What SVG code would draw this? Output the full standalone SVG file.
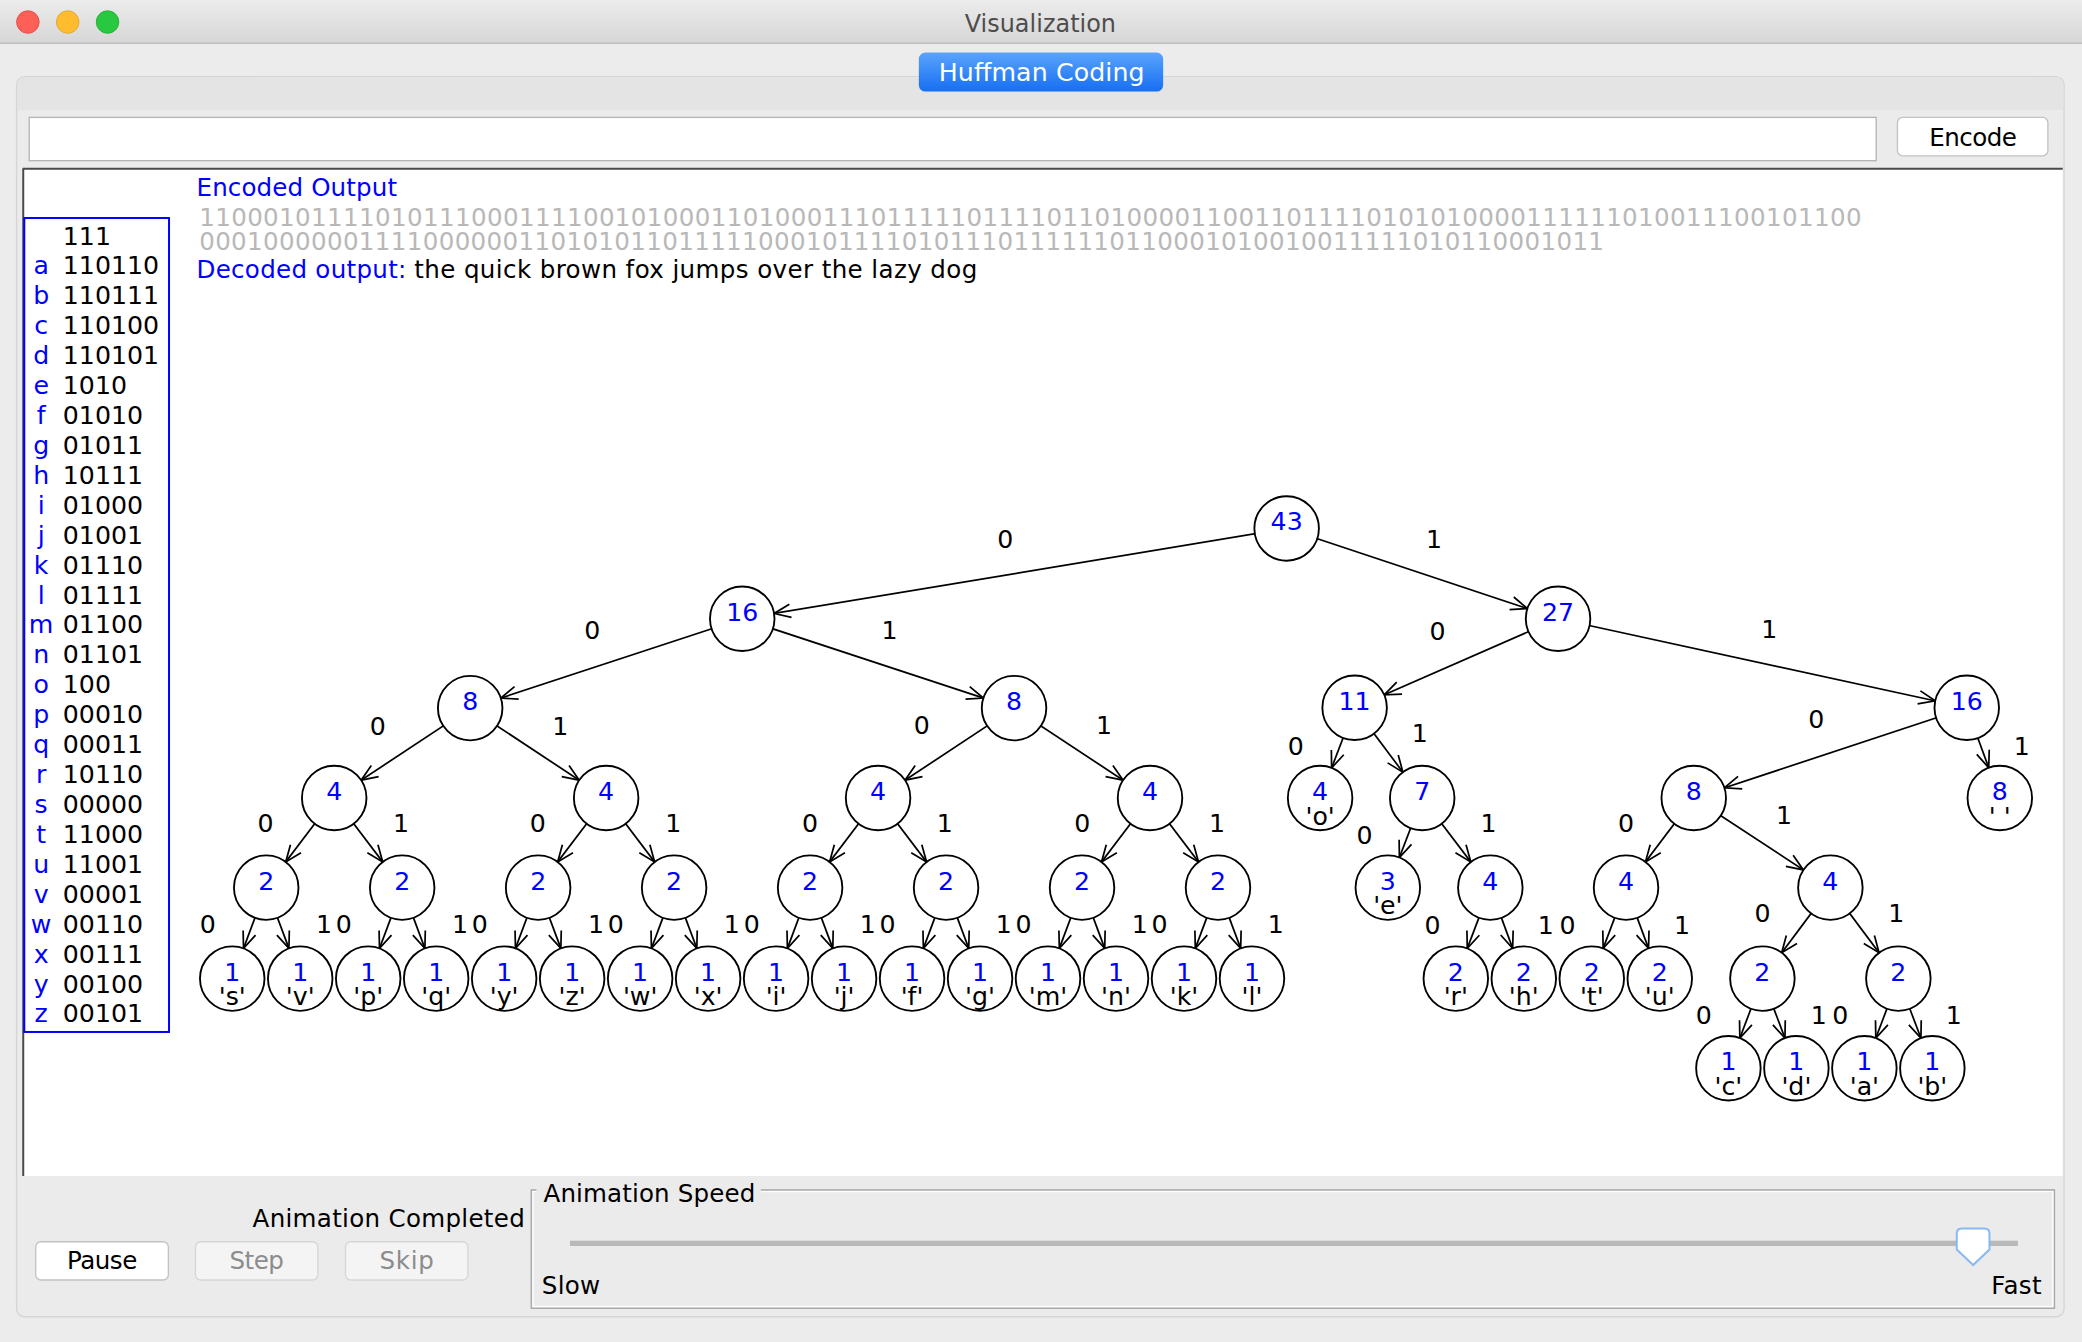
<svg xmlns="http://www.w3.org/2000/svg" width="2082" height="1342" viewBox="0 0 2082 1342">
<defs>
<linearGradient id="tb" x1="0" y1="0" x2="0" y2="1"><stop offset="0" stop-color="#ececec"/><stop offset="1" stop-color="#d6d6d6"/></linearGradient>
<linearGradient id="tab" x1="0" y1="0" x2="0" y2="1"><stop offset="0" stop-color="#5aa4fd"/><stop offset="1" stop-color="#166ef2"/></linearGradient>
<marker id="ah" markerUnits="userSpaceOnUse" orient="auto" markerWidth="1" markerHeight="1" refX="0" refY="0" style="overflow:visible"><path d="M-36.8,-5 L-24.3,0 L-36.8,5" fill="none" stroke="#000" stroke-width="1.3"/></marker>
</defs>
<style>
text{font-family:"DejaVu Sans","Liberation Sans",sans-serif;font-size:19px}
.ui{font-size:18.5px;fill:#000}
.blue{fill:#0000ff}
.gray{fill:#b8b8b8}
.num{fill:#0000ff;text-anchor:middle}
.ch{fill:#000;text-anchor:middle}
.el{fill:#000;text-anchor:middle}
.nd circle{fill:#fff;stroke:#000;stroke-width:1.4}
.edges line{stroke:#000;stroke-width:1.3;marker-end:url(#ah)}
.btn{fill:#fff;stroke:#c2c2c2;stroke-width:1}
.btnd{fill:#f4f4f4;stroke:#d6d6d6;stroke-width:1}
.tl{font-size:19px}
.tc{text-anchor:middle}
</style>
<g transform="scale(1.327806)">
<!-- window -->
<rect x="0" y="0" width="1568" height="1011" fill="#ececec"/>
<rect x="0" y="0" width="1568" height="32.6" fill="url(#tb)"/>
<line x1="0" y1="32.6" x2="1568" y2="32.6" stroke="#bdbdbd" stroke-width="1"/>
<circle cx="21" cy="16.6" r="8.5" fill="#fe5f57" stroke="#e0443e" stroke-width="0.6"/>
<circle cx="51" cy="16.6" r="8.5" fill="#febc2e" stroke="#dea123" stroke-width="0.6"/>
<circle cx="81" cy="16.6" r="8.5" fill="#28c840" stroke="#1aab29" stroke-width="0.6"/>
<text x="783.5" y="24.4" class="tc" style="font-size:18px;fill:#4d4d4d" textLength="114">Visualization</text>
<!-- panel -->
<rect x="12.5" y="57.7" width="1542" height="934" rx="6" fill="#ebebeb" stroke="#d5d5d5" stroke-width="1"/>
<path d="M13,82.8 V63.7 Q13,58.2 19,58.2 H1548 Q1554,58.2 1554,63.7 V82.8 Z" fill="#e4e4e4"/>
<rect x="692" y="39.5" width="184" height="29.5" rx="5" fill="url(#tab)"/>
<text x="784.5" y="61.3" class="tc" style="fill:#fff" textLength="155">Huffman Coding</text>
<rect x="22" y="88.4" width="1391" height="32.6" fill="#fff" stroke="#b4b4b4" stroke-width="1"/>
<rect x="1429" y="88.4" width="113.3" height="29" rx="4" class="btn"/>
<text x="1486" y="109.7" class="ui tc" textLength="66">Encode</text>
<!-- canvas -->
<rect x="17" y="127" width="1536.5" height="758.7" fill="#fff"/>
<line x1="17" y1="127" x2="1553.5" y2="127" stroke="#4a4a4a" stroke-width="1.5"/>
<line x1="17.5" y1="127" x2="17.5" y2="885.7" stroke="#4a4a4a" stroke-width="1.5"/>
<text x="148" y="147.4" class="ui blue" textLength="151">Encoded Output</text>
<text x="150" y="170.5" class="ui gray" textLength="1252">11000101111010111000111100101000110100011101111101111011010000110011011110101010000111111010011100101100</text>
<text x="150" y="188.3" class="ui gray" textLength="1058">0001000000111100000011010101101111100010111101011101111110110001010010011111010110001011</text>
<text x="148" y="209.3" class="ui blue" textLength="158">Decoded output:</text>
<text x="312" y="209.3" class="ui" textLength="424">the quick brown fox jumps over the lazy dog</text>
<!-- code table -->
<g id="codetable">
<rect x="18.3" y="164.2" width="109" height="613" fill="#fff" stroke="#0000ff" stroke-width="1.5"/>
<g class="blue tc">
<text x="31" y="206.7">a</text><text x="31" y="229.3">b</text><text x="31" y="251.8">c</text><text x="31" y="274.3">d</text><text x="31" y="296.9">e</text><text x="31" y="319.4">f</text><text x="31" y="341.9">g</text><text x="31" y="364.4">h</text><text x="31" y="387">i</text><text x="31" y="409.5">j</text><text x="31" y="432">k</text><text x="31" y="454.6">l</text><text x="31" y="477.1">m</text><text x="31" y="499.6">n</text><text x="31" y="522.2">o</text><text x="31" y="544.7">p</text><text x="31" y="567.2">q</text><text x="31" y="589.7">r</text><text x="31" y="612.3">s</text><text x="31" y="634.8">t</text><text x="31" y="657.3">u</text><text x="31" y="679.9">v</text><text x="31" y="702.4">w</text><text x="31" y="724.9">x</text><text x="31" y="747.5">y</text><text x="31" y="770">z</text>
</g>
<g fill="#000">
<text x="47.3" y="184.2">111</text><text x="47.3" y="206.7">110110</text><text x="47.3" y="229.3">110111</text><text x="47.3" y="251.8">110100</text><text x="47.3" y="274.3">110101</text><text x="47.3" y="296.9">1010</text><text x="47.3" y="319.4">01010</text><text x="47.3" y="341.9">01011</text><text x="47.3" y="364.4">10111</text><text x="47.3" y="387">01000</text><text x="47.3" y="409.5">01001</text><text x="47.3" y="432">01110</text><text x="47.3" y="454.6">01111</text><text x="47.3" y="477.1">01100</text><text x="47.3" y="499.6">01101</text><text x="47.3" y="522.2">100</text><text x="47.3" y="544.7">00010</text><text x="47.3" y="567.2">00011</text><text x="47.3" y="589.7">10110</text><text x="47.3" y="612.3">00000</text><text x="47.3" y="634.8">11000</text><text x="47.3" y="657.3">11001</text><text x="47.3" y="679.9">00001</text><text x="47.3" y="702.4">00110</text><text x="47.3" y="724.9">00111</text><text x="47.3" y="747.5">00100</text><text x="47.3" y="770">00101</text>
</g>
</g>
<!-- connectors -->
<g id="connectors" class="edges">
<line x1="969" y1="398" x2="559" y2="466"/>
<line x1="969" y1="398" x2="1173.4" y2="466"/>
<line x1="559" y1="466" x2="354.1" y2="533.3"/>
<line x1="559" y1="466" x2="763.7" y2="533.3"/>
<line x1="1173.4" y1="466" x2="1020.2" y2="533"/>
<line x1="1173.4" y1="466" x2="1481.2" y2="533"/>
<line x1="354.1" y1="533.3" x2="251.7" y2="601"/>
<line x1="354.1" y1="533.3" x2="456.5" y2="601"/>
<line x1="763.7" y1="533.3" x2="661.3" y2="601"/>
<line x1="763.7" y1="533.3" x2="866.1" y2="601"/>
<line x1="1020.2" y1="533" x2="994.2" y2="601"/>
<line x1="1020.2" y1="533" x2="1071.1" y2="601"/>
<line x1="1481.2" y1="533" x2="1275.6" y2="601"/>
<line x1="1481.2" y1="533" x2="1506.1" y2="601"/>
<line x1="251.7" y1="601" x2="200.5" y2="668.5"/>
<line x1="251.7" y1="601" x2="302.9" y2="668.5"/>
<line x1="456.5" y1="601" x2="405.3" y2="668.5"/>
<line x1="456.5" y1="601" x2="507.7" y2="668.5"/>
<line x1="661.3" y1="601" x2="610.1" y2="668.5"/>
<line x1="661.3" y1="601" x2="712.5" y2="668.5"/>
<line x1="866.1" y1="601" x2="814.9" y2="668.5"/>
<line x1="866.1" y1="601" x2="917.3" y2="668.5"/>
<line x1="1071.1" y1="601" x2="1045.2" y2="668.5"/>
<line x1="1071.1" y1="601" x2="1122.4" y2="668.5"/>
<line x1="1275.6" y1="601" x2="1224.6" y2="668.5"/>
<line x1="1275.6" y1="601" x2="1378.5" y2="668.5"/>
<line x1="200.5" y1="668.5" x2="174.9" y2="737"/>
<line x1="200.5" y1="668.5" x2="226.1" y2="737"/>
<line x1="302.9" y1="668.5" x2="277.3" y2="737"/>
<line x1="302.9" y1="668.5" x2="328.5" y2="737"/>
<line x1="405.3" y1="668.5" x2="379.7" y2="737"/>
<line x1="405.3" y1="668.5" x2="430.9" y2="737"/>
<line x1="507.7" y1="668.5" x2="482.1" y2="737"/>
<line x1="507.7" y1="668.5" x2="533.3" y2="737"/>
<line x1="610.1" y1="668.5" x2="584.5" y2="737"/>
<line x1="610.1" y1="668.5" x2="635.7" y2="737"/>
<line x1="712.5" y1="668.5" x2="686.9" y2="737"/>
<line x1="712.5" y1="668.5" x2="738.1" y2="737"/>
<line x1="814.9" y1="668.5" x2="789.3" y2="737"/>
<line x1="814.9" y1="668.5" x2="840.5" y2="737"/>
<line x1="917.3" y1="668.5" x2="891.7" y2="737"/>
<line x1="917.3" y1="668.5" x2="942.9" y2="737"/>
<line x1="1122.4" y1="668.5" x2="1096.4" y2="737"/>
<line x1="1122.4" y1="668.5" x2="1147.6" y2="737"/>
<line x1="1224.6" y1="668.5" x2="1198.8" y2="737"/>
<line x1="1224.6" y1="668.5" x2="1250" y2="737"/>
<line x1="1378.5" y1="668.5" x2="1327.3" y2="737"/>
<line x1="1378.5" y1="668.5" x2="1429.7" y2="737"/>
<line x1="1327.3" y1="737" x2="1301.7" y2="804.5"/>
<line x1="1327.3" y1="737" x2="1352.9" y2="804.5"/>
<line x1="1429.7" y1="737" x2="1404.1" y2="804.5"/>
<line x1="1429.7" y1="737" x2="1455.3" y2="804.5"/>
</g>
<!-- edge labels -->
<g id="edge-labels" class="el">
<text x="757" y="413">0</text><text x="1080" y="413">1</text>
<text x="446" y="481.3">0</text><text x="670" y="481">1</text>
<text x="1082.6" y="482.2">0</text><text x="1332.4" y="480.7">1</text>
<text x="284.5" y="553.2">0</text><text x="422" y="553.2">1</text>
<text x="694.3" y="553">0</text><text x="831.5" y="553">1</text>
<text x="975.8" y="568.3">0</text><text x="1069.2" y="559.1">1</text>
<text x="1367.8" y="548.3">0</text><text x="1522.7" y="568.3">1</text>
<text x="200" y="626.5">0</text><text x="302" y="626.5">1</text>
<text x="405" y="626.5">0</text><text x="507" y="626.5">1</text>
<text x="610" y="626.5">0</text><text x="711.5" y="626.5">1</text>
<text x="815" y="626.5">0</text><text x="916.5" y="626.5">1</text>
<text x="1027.7" y="636">0</text><text x="1121.1" y="626.7">1</text>
<text x="1224.5" y="626.7">0</text><text x="1343.6" y="620.6">1</text>
<text x="156.5" y="703">0</text><text x="244" y="703">1</text>
<text x="258.9" y="703">0</text><text x="346.4" y="703">1</text>
<text x="361.3" y="703">0</text><text x="448.8" y="703">1</text>
<text x="463.7" y="703">0</text><text x="551.2" y="703">1</text>
<text x="566.1" y="703">0</text><text x="653.6" y="703">1</text>
<text x="668.5" y="703">0</text><text x="756" y="703">1</text>
<text x="770.9" y="703">0</text><text x="858.4" y="703">1</text>
<text x="873.3" y="703">0</text><text x="960.8" y="703">1</text>
<text x="1078.8" y="703.6">0</text><text x="1164.1" y="703.6">1</text>
<text x="1180.6" y="703.6">0</text><text x="1266.7" y="703.6">1</text>
<text x="1327.4" y="694.3">0</text><text x="1428.1" y="694.3">1</text>
<text x="1283.2" y="771.2">0</text><text x="1369.7" y="771.2">1</text>
<text x="1385.9" y="771.2">0</text><text x="1471.5" y="771.2">1</text>
</g>
<!-- nodes -->
<g id="n43" class="nd"><circle cx="969" cy="398" r="24.3"/><text class="num" x="969" y="399.5">43</text></g>
<g id="n16a" class="nd"><circle cx="559" cy="466" r="24.3"/><text class="num" x="559" y="467.5">16</text></g>
<g id="n27" class="nd"><circle cx="1173.4" cy="466" r="24.3"/><text class="num" x="1173.4" y="467.5">27</text></g>
<g id="n8a" class="nd"><circle cx="354.1" cy="533.3" r="24.3"/><text class="num" x="354.1" y="534.8">8</text></g>
<g id="n8b" class="nd"><circle cx="763.7" cy="533.3" r="24.3"/><text class="num" x="763.7" y="534.8">8</text></g>
<g id="n11" class="nd"><circle cx="1020.2" cy="533" r="24.3"/><text class="num" x="1020.2" y="534.5">11</text></g>
<g id="n16b" class="nd"><circle cx="1481.2" cy="533" r="24.3"/><text class="num" x="1481.2" y="534.5">16</text></g>
<g id="n4a" class="nd"><circle cx="251.7" cy="601" r="24.3"/><text class="num" x="251.7" y="602.5">4</text></g>
<g id="n4b" class="nd"><circle cx="456.5" cy="601" r="24.3"/><text class="num" x="456.5" y="602.5">4</text></g>
<g id="n4c" class="nd"><circle cx="661.3" cy="601" r="24.3"/><text class="num" x="661.3" y="602.5">4</text></g>
<g id="n4d" class="nd"><circle cx="866.1" cy="601" r="24.3"/><text class="num" x="866.1" y="602.5">4</text></g>
<g id="leaf-o" class="nd"><circle cx="994.2" cy="601" r="24.3"/><text class="num" x="994.2" y="602.5">4</text><text class="ch" x="994.2" y="621">'o'</text></g>
<g id="n7" class="nd"><circle cx="1071.1" cy="601" r="24.3"/><text class="num" x="1071.1" y="602.5">7</text></g>
<g id="n8c" class="nd"><circle cx="1275.6" cy="601" r="24.3"/><text class="num" x="1275.6" y="602.5">8</text></g>
<g id="leaf-space" class="nd"><circle cx="1506.1" cy="601" r="24.3"/><text class="num" x="1506.1" y="602.5">8</text><text class="ch" x="1506.1" y="621">' '</text></g>
<g id="n2a" class="nd"><circle cx="200.5" cy="668.5" r="24.3"/><text class="num" x="200.5" y="670">2</text></g>
<g id="n2b" class="nd"><circle cx="302.9" cy="668.5" r="24.3"/><text class="num" x="302.9" y="670">2</text></g>
<g id="n2c" class="nd"><circle cx="405.3" cy="668.5" r="24.3"/><text class="num" x="405.3" y="670">2</text></g>
<g id="n2d" class="nd"><circle cx="507.7" cy="668.5" r="24.3"/><text class="num" x="507.7" y="670">2</text></g>
<g id="n2e" class="nd"><circle cx="610.1" cy="668.5" r="24.3"/><text class="num" x="610.1" y="670">2</text></g>
<g id="n2f" class="nd"><circle cx="712.5" cy="668.5" r="24.3"/><text class="num" x="712.5" y="670">2</text></g>
<g id="n2g" class="nd"><circle cx="814.9" cy="668.5" r="24.3"/><text class="num" x="814.9" y="670">2</text></g>
<g id="n2h" class="nd"><circle cx="917.3" cy="668.5" r="24.3"/><text class="num" x="917.3" y="670">2</text></g>
<g id="leaf-e" class="nd"><circle cx="1045.2" cy="668.5" r="24.3"/><text class="num" x="1045.2" y="670">3</text><text class="ch" x="1045.2" y="688.5">'e'</text></g>
<g id="n4e" class="nd"><circle cx="1122.4" cy="668.5" r="24.3"/><text class="num" x="1122.4" y="670">4</text></g>
<g id="n4f" class="nd"><circle cx="1224.6" cy="668.5" r="24.3"/><text class="num" x="1224.6" y="670">4</text></g>
<g id="n4g" class="nd"><circle cx="1378.5" cy="668.5" r="24.3"/><text class="num" x="1378.5" y="670">4</text></g>
<g id="leaf-s" class="nd"><circle cx="174.9" cy="737" r="24.3"/><text class="num" x="174.9" y="738.5">1</text><text class="ch" x="174.9" y="757">'s'</text></g>
<g id="leaf-v" class="nd"><circle cx="226.1" cy="737" r="24.3"/><text class="num" x="226.1" y="738.5">1</text><text class="ch" x="226.1" y="757">'v'</text></g>
<g id="leaf-p" class="nd"><circle cx="277.3" cy="737" r="24.3"/><text class="num" x="277.3" y="738.5">1</text><text class="ch" x="277.3" y="757">'p'</text></g>
<g id="leaf-q" class="nd"><circle cx="328.5" cy="737" r="24.3"/><text class="num" x="328.5" y="738.5">1</text><text class="ch" x="328.5" y="757">'q'</text></g>
<g id="leaf-y" class="nd"><circle cx="379.7" cy="737" r="24.3"/><text class="num" x="379.7" y="738.5">1</text><text class="ch" x="379.7" y="757">'y'</text></g>
<g id="leaf-z" class="nd"><circle cx="430.9" cy="737" r="24.3"/><text class="num" x="430.9" y="738.5">1</text><text class="ch" x="430.9" y="757">'z'</text></g>
<g id="leaf-w" class="nd"><circle cx="482.1" cy="737" r="24.3"/><text class="num" x="482.1" y="738.5">1</text><text class="ch" x="482.1" y="757">'w'</text></g>
<g id="leaf-x" class="nd"><circle cx="533.3" cy="737" r="24.3"/><text class="num" x="533.3" y="738.5">1</text><text class="ch" x="533.3" y="757">'x'</text></g>
<g id="leaf-i" class="nd"><circle cx="584.5" cy="737" r="24.3"/><text class="num" x="584.5" y="738.5">1</text><text class="ch" x="584.5" y="757">'i'</text></g>
<g id="leaf-j" class="nd"><circle cx="635.7" cy="737" r="24.3"/><text class="num" x="635.7" y="738.5">1</text><text class="ch" x="635.7" y="757">'j'</text></g>
<g id="leaf-f" class="nd"><circle cx="686.9" cy="737" r="24.3"/><text class="num" x="686.9" y="738.5">1</text><text class="ch" x="686.9" y="757">'f'</text></g>
<g id="leaf-g" class="nd"><circle cx="738.1" cy="737" r="24.3"/><text class="num" x="738.1" y="738.5">1</text><text class="ch" x="738.1" y="757">'g'</text></g>
<g id="leaf-m" class="nd"><circle cx="789.3" cy="737" r="24.3"/><text class="num" x="789.3" y="738.5">1</text><text class="ch" x="789.3" y="757">'m'</text></g>
<g id="leaf-n" class="nd"><circle cx="840.5" cy="737" r="24.3"/><text class="num" x="840.5" y="738.5">1</text><text class="ch" x="840.5" y="757">'n'</text></g>
<g id="leaf-k" class="nd"><circle cx="891.7" cy="737" r="24.3"/><text class="num" x="891.7" y="738.5">1</text><text class="ch" x="891.7" y="757">'k'</text></g>
<g id="leaf-l" class="nd"><circle cx="942.9" cy="737" r="24.3"/><text class="num" x="942.9" y="738.5">1</text><text class="ch" x="942.9" y="757">'l'</text></g>
<g id="leaf-r" class="nd"><circle cx="1096.4" cy="737" r="24.3"/><text class="num" x="1096.4" y="738.5">2</text><text class="ch" x="1096.4" y="757">'r'</text></g>
<g id="leaf-h" class="nd"><circle cx="1147.6" cy="737" r="24.3"/><text class="num" x="1147.6" y="738.5">2</text><text class="ch" x="1147.6" y="757">'h'</text></g>
<g id="leaf-t" class="nd"><circle cx="1198.8" cy="737" r="24.3"/><text class="num" x="1198.8" y="738.5">2</text><text class="ch" x="1198.8" y="757">'t'</text></g>
<g id="leaf-u" class="nd"><circle cx="1250" cy="737" r="24.3"/><text class="num" x="1250" y="738.5">2</text><text class="ch" x="1250" y="757">'u'</text></g>
<g id="n2i" class="nd"><circle cx="1327.3" cy="737" r="24.3"/><text class="num" x="1327.3" y="738.5">2</text></g>
<g id="n2j" class="nd"><circle cx="1429.7" cy="737" r="24.3"/><text class="num" x="1429.7" y="738.5">2</text></g>
<g id="leaf-c" class="nd"><circle cx="1301.7" cy="804.5" r="24.3"/><text class="num" x="1301.7" y="806">1</text><text class="ch" x="1301.7" y="824.5">'c'</text></g>
<g id="leaf-d" class="nd"><circle cx="1352.9" cy="804.5" r="24.3"/><text class="num" x="1352.9" y="806">1</text><text class="ch" x="1352.9" y="824.5">'d'</text></g>
<g id="leaf-a" class="nd"><circle cx="1404.1" cy="804.5" r="24.3"/><text class="num" x="1404.1" y="806">1</text><text class="ch" x="1404.1" y="824.5">'a'</text></g>
<g id="leaf-b" class="nd"><circle cx="1455.3" cy="804.5" r="24.3"/><text class="num" x="1455.3" y="806">1</text><text class="ch" x="1455.3" y="824.5">'b'</text></g>
<!-- bottom controls -->
<rect x="26.9" y="935.2" width="99.9" height="28.8" rx="4" class="btn"/>
<text x="76.9" y="955.7" class="ui tc" textLength="53">Pause</text>
<rect x="147.2" y="935.2" width="92.2" height="28.8" rx="4" class="btnd"/>
<text x="193.3" y="955.7" class="ui tc" style="fill:#8c8c8c" textLength="41">Step</text>
<rect x="260.2" y="935.2" width="92.2" height="28.8" rx="4" class="btnd"/>
<text x="306.3" y="955.7" class="ui tc" style="fill:#8c8c8c" textLength="41">Skip</text>
<text x="190.2" y="924.4" class="ui" textLength="205">Animation Completed</text>
<rect x="400.2" y="896.2" width="1147" height="89" fill="none" stroke="#a9a9a9" stroke-width="1.2"/>
<rect x="401.4" y="897.4" width="1144.6" height="86.6" fill="none" stroke="#ffffff" stroke-width="1"/>
<rect x="404" y="888" width="169" height="16" fill="#ebebeb"/>
<text x="409.3" y="905" class="ui" textLength="159.5">Animation Speed</text>
<rect x="429.3" y="934.4" width="1090.4" height="4" fill="#b9b9b9"/>
<path d="M1477.5,925.2 H1494.5 Q1498.3,925.2 1498.3,929 V941 L1486,952.7 L1473.7,941 V929 Q1473.7,925.2 1477.5,925.2 Z" fill="#fff" stroke="#8ab8f2" stroke-width="1.5"/>
<text x="408" y="974.2" class="ui" textLength="44">Slow</text>
<text x="1499.6" y="974.6" class="ui" textLength="38">Fast</text>
</g>
</svg>
